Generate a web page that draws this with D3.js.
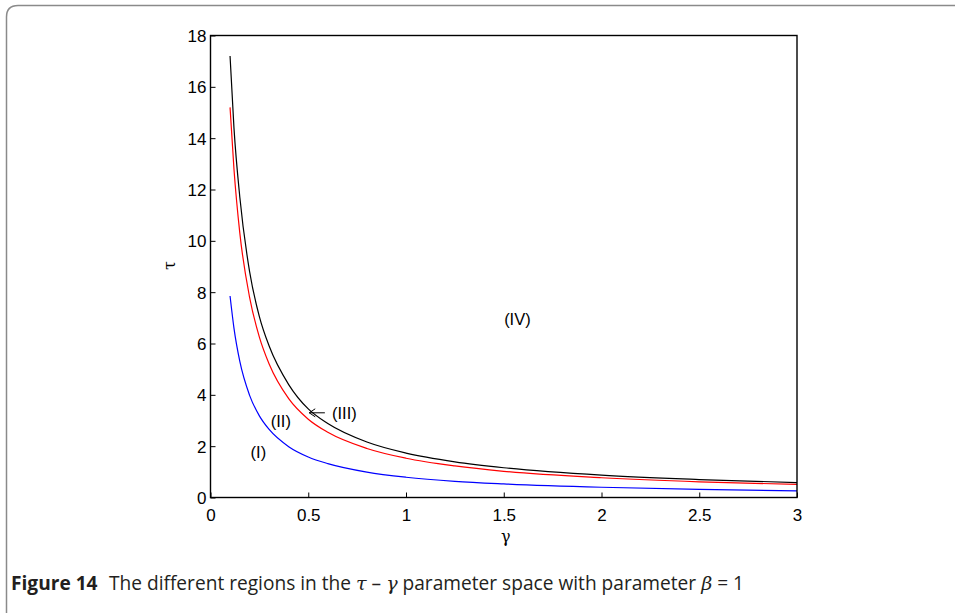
<!DOCTYPE html>
<html>
<head>
<meta charset="utf-8">
<script src="https://cdn.jsdelivr.net/npm/d3@7/dist/d3.min.js"></script>
<style>
  html, body { margin: 0; padding: 0; background: #fff; }
  svg { display: block; }
</style>
</head>
<body>
<svg id="chart" width="955" height="613"></svg>
<script>
// gamma samples shared by the three boundary curves
const gammaValues = [0.1, 0.12, 0.15, 0.2, 0.25, 0.3, 0.4, 0.5, 0.6, 0.8, 1, 1.25, 1.5, 2, 2.5, 3];
// tau on each boundary
const tauBlack = [17.2, 14.4, 11.7, 8.8, 7.05, 5.9, 4.4, 3.45, 2.88, 2.16, 1.73, 1.39, 1.16, 0.87, 0.70, 0.58];
const tauRed   = [15.2, 12.8, 10.3, 7.8, 6.25, 5.2, 3.85, 3.05, 2.54, 1.91, 1.53, 1.23, 1.02, 0.77, 0.61, 0.51];
const tauBlue  = [7.85, 6.6, 5.3, 3.98, 3.18, 2.65, 1.98, 1.58, 1.32, 0.99, 0.79, 0.63, 0.53, 0.40, 0.32, 0.26];
const xTicks = [0, 0.5, 1, 1.5, 2, 2.5, 3];
const yTicks = [0, 2, 4, 6, 8, 10, 12, 14, 16, 18];
// region labels placed at (gamma, tau)
const regionLabels = [
  { text: "(I)",   g: 0.245, t: 1.78 },
  { text: "(II)",  g: 0.36, t: 2.98 },
  { text: "(III)", g: 0.685, t: 3.3 },
  { text: "(IV)",  g: 1.57, t: 6.95 }
];

const svg = d3.select("#chart");

// rounded frame around figure + caption
svg.append("path")
  .attr("d", "M6.5,613 L6.5,17 Q6.5,5.5 18,5.5 L955,5.5")
  .attr("fill", "none").attr("stroke", "#8a8a8a").attr("stroke-width", 1.5);

const m = { left: 210.5, right: 797, top: 35.5, bottom: 497.5 };
const x = d3.scaleLinear().domain([0, 3]).range([m.left, m.right]);
const y = d3.scaleLinear().domain([0, 18]).range([m.bottom, m.top]);

const plot = svg.append("g");

// curves
const line = d3.line().x(d => x(d[0])).y(d => y(d[1])).curve(d3.curveMonotoneX);
[[tauBlue, "#0000ff"], [tauRed, "#ff0000"], [tauBlack, "#000000"]].forEach(([vals, col]) => {
  plot.append("path")
    .datum(gammaValues.map((g, i) => [g, vals[i]]))
    .attr("d", line)
    .attr("fill", "none").attr("stroke", col).attr("stroke-width", 1.2);
});

// axes
const xAxis = d3.axisBottom(x).tickValues(xTicks).tickSizeInner(-5).tickSizeOuter(0).tickPadding(11).tickFormat(d3.format("~g"));
const yAxis = d3.axisLeft(y).tickValues(yTicks).tickSizeInner(-5).tickSizeOuter(0).tickPadding(4);
const gx = svg.append("g").attr("transform", `translate(0,${m.bottom})`).call(xAxis);
const gy = svg.append("g").attr("transform", `translate(${m.left},0)`).call(yAxis);
[gx, gy].forEach(g => {
  g.attr("font-family", "Liberation Sans, Arial, sans-serif").attr("font-size", 17);
  g.select(".domain").remove();
  g.selectAll(".tick line").attr("stroke", "#000");
  g.selectAll(".tick text").attr("fill", "#000");
});
gy.selectAll(".tick text").attr("dy", "0.35em");

// plot box
svg.append("rect")
  .attr("x", m.left).attr("y", m.top)
  .attr("width", m.right - m.left).attr("height", m.bottom - m.top)
  .attr("fill", "none").attr("stroke", "#000").attr("stroke-width", 1.4);

// axis titles
svg.append("text").attr("x", (m.left + m.right) / 2 + 2).attr("y", 542)
  .attr("text-anchor", "middle").attr("font-family", "DejaVu Serif, serif").attr("font-size", 16)
  .text("γ");
svg.append("text").attr("transform", `translate(175,${(m.top + m.bottom) / 2 - 1}) rotate(-90)`)
  .attr("text-anchor", "middle").attr("font-family", "DejaVu Serif, serif").attr("font-size", 16)
  .text("τ");

// region labels
regionLabels.forEach(r => {
  svg.append("text").attr("x", x(r.g)).attr("y", y(r.t))
    .attr("text-anchor", "middle").attr("dy", "0.35em")
    .attr("font-family", "Liberation Sans, Arial, sans-serif").attr("font-size", 16.5)
    .text(r.text);
});

// arrow pointing from (III) to the black curve
const ay = y(3.3);
const ax0 = x(0.505), ax1 = x(0.585);
svg.append("line").attr("x1", ax0).attr("y1", ay).attr("x2", ax1).attr("y2", ay)
  .attr("stroke", "#000").attr("stroke-width", 1);
svg.append("path")
  .attr("d", `M${ax0 + 6},${ay - 4} L${ax0},${ay} L${ax0 + 6},${ay + 4}`)
  .attr("fill", "none").attr("stroke", "#000").attr("stroke-width", 1);

// caption, sized to run across the figure width
const cap = svg.append("text").attr("x", 11).attr("y", 590)
  .attr("font-family", "Open Sans, sans-serif").attr("font-size", 15).attr("fill", "#231f20");
cap.append("tspan").attr("font-weight", "bold").text("Figure 14");
cap.append("tspan").attr("dx", "0.6em").text("The different regions in the ");
cap.append("tspan").attr("font-family", "DejaVu Serif, serif").attr("font-style", "italic").text("τ");
cap.append("tspan").text(" – ");
cap.append("tspan").attr("font-family", "DejaVu Serif, serif").attr("font-style", "italic").text("γ");
cap.append("tspan").text(" parameter space with parameter ");
cap.append("tspan").attr("font-family", "DejaVu Serif, serif").attr("font-style", "italic").text("β");
cap.append("tspan").text(" = 1");
const capWidth = cap.node().getComputedTextLength();
cap.attr("font-size", 15 * 722 / capWidth);
</script>
</body>
</html>
